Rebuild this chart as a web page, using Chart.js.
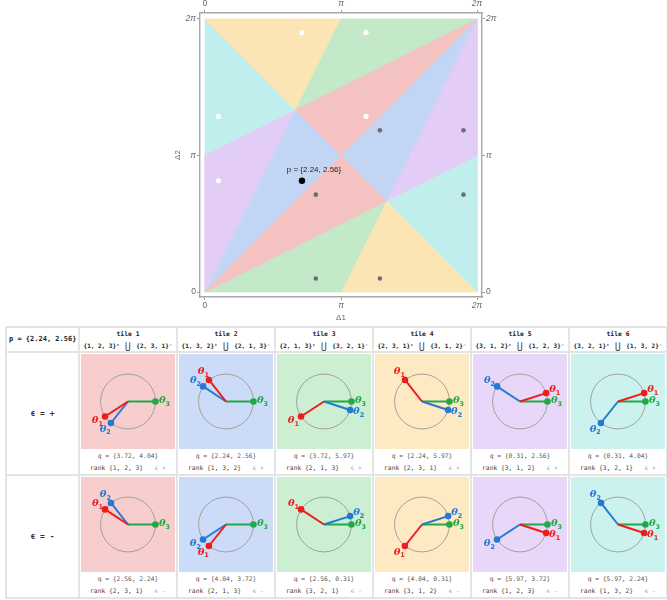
<!DOCTYPE html>
<html><head><meta charset="utf-8">
<script src="https://cdn.jsdelivr.net/npm/chart.js@4.4.0/dist/chart.umd.min.js"></script>
<style>
html,body{margin:0;padding:0;background:#fff;}
body{width:667px;height:600px;overflow:hidden;position:relative;font-family:"DejaVu Sans Mono",monospace;}
#topWrap{position:absolute;left:0;top:0;width:667px;height:326px;}
#tbl{position:absolute;left:5px;top:326px;border-collapse:collapse;table-layout:fixed;width:661px;}
#tbl td{border:2px solid #e4e4e4;padding:0;text-align:center;vertical-align:top;}
#tbl tr.hdr td{height:22px;vertical-align:middle;font-weight:bold;color:#222;font-size:6px;line-height:11px;white-space:nowrap;}
#tbl tr.hdr td .tn{font-size:6.4px;}
#tbl td.pcell{font-size:7px !important;text-align:left;padding-left:2px;}
#tbl td.eps{vertical-align:middle;font-weight:bold;font-size:8px;color:#333;}
.un{font-size:9px;font-weight:normal;position:relative;top:1px;margin:0 2px;}
.img{width:94px;height:95px;margin:1px auto 0 auto;}
.img canvas{display:block;}
.q{font-size:6.3px;color:#555;line-height:13px;height:13px;}
.rk{font-size:6.3px;color:#444;line-height:12px;height:12px;white-space:pre;}
.rk span{color:#aaa;}
</style>
</head><body>
<div id="topWrap"><canvas id="top" width="667" height="326"></canvas></div>
<table id="tbl"></table>
<script>
// ---------- data ----------
const PI = Math.PI;
const tickVals = [0, PI, 2 * PI];
const tickLabels = ['0', 'π', '2π'];
const pPoint = [2.24, 2.56];
const tileNames = ['tile 1', 'tile 2', 'tile 3', 'tile 4', 'tile 5', 'tile 6'];
const unionPlus = ['{1, 2, 3}', '{1, 3, 2}', '{2, 1, 3}', '{2, 3, 1}', '{3, 1, 2}', '{3, 2, 1}'];
const unionMinus = ['{2, 3, 1}', '{2, 1, 3}', '{3, 2, 1}', '{3, 1, 2}', '{1, 2, 3}', '{1, 3, 2}'];
const qPlus = [[3.72, 4.04], [2.24, 2.56], [3.72, 5.97], [2.24, 5.97], [0.31, 2.56], [0.31, 4.04]];
const qMinus = [[2.56, 2.24], [4.04, 3.72], [2.56, 0.31], [4.04, 0.31], [5.97, 3.72], [5.97, 2.24]];
const rankPlus = ['{1, 2, 3}', '{1, 3, 2}', '{2, 1, 3}', '{2, 3, 1}', '{3, 1, 2}', '{3, 2, 1}'];
const rankMinus = ['{2, 3, 1}', '{2, 1, 3}', '{3, 2, 1}', '{3, 1, 2}', '{1, 2, 3}', '{1, 3, 2}'];
const tileColors = ['#F5C2C2', '#C2D5F5', '#C3E9C8', '#FCE5B4', '#E3CDF7', '#C0EEEC'];
const tileColorsLight = ['#F8CDCD', '#CCDCF8', '#CCEED1', '#FDEAC2', '#E8D7F8', '#CCF2F0'];
// region vertices (in units of pi) and the tile each belongs to
const vA = [2 / 3, 4 / 3], vB = [1, 1], vC = [4 / 3, 2 / 3];
const regionTile = [0, 0, 1, 1, 2, 2, 3, 3, 4, 4, 5, 5];
const regionVerts = [
  [vA, [2, 2], vB], [[0, 0], vC, vB],
  [vB, [2, 2], vC], [[0, 0], vB, vA],
  [[1, 2], [2, 2], vA], [[0, 0], [1, 0], vC],
  [[0, 2], [1, 2], vA], [[1, 0], [2, 0], vC],
  [[2, 2], [2, 1], vC], [[0, 0], vA, [0, 1]],
  [[0, 2], vA, [0, 1]], [[2, 1], [2, 0], vC]
];
const thetaColors = ['#EE1C1C', '#2478D6', '#22A845'];

// ---------- top chart ----------
const polyDatasets = regionVerts.map((vs, i) => {
  const pts = vs.concat([vs[0]]).map(v => ({ x: v[0] * PI, y: v[1] * PI }));
  return {
    data: pts, showLine: true, fill: 'shape', tension: 0,
    backgroundColor: tileColors[regionTile[i]], borderColor: tileColors[regionTile[i]],
    borderWidth: 0.8, pointRadius: 0, order: 10
  };
});
const topDatasets = polyDatasets.concat([
  { data: qPlus.map(q => ({ x: q[0], y: q[1] })), pointRadius: 2.6, pointBackgroundColor: '#ffffff', pointBorderWidth: 0, showLine: false, order: 1 },
  { data: qMinus.map(q => ({ x: q[0], y: q[1] })), pointRadius: 2.3, pointBackgroundColor: '#6e6e6e', pointBorderWidth: 0, showLine: false, order: 1 },
  { data: [{ x: pPoint[0], y: pPoint[1] }], pointRadius: 3.2, pointBackgroundColor: '#000000', pointBorderWidth: 0, showLine: false, order: 0 }
]);

const tickFont = (ctx) => ({ family: 'Liberation Sans', size: 8.5, style: (ctx.tick && ctx.tick.value !== 0) ? 'italic' : 'normal' });
function axis(pos, extra) {
  const horiz = pos === 'bottom' || pos === 'top';
  const o = {
    type: 'linear', position: pos,
    min: -0.115, max: horiz ? 2 * PI + 0.115 : 2 * PI + 0.138,
    afterBuildTicks: s => { s.ticks = tickVals.map(v => ({ value: v })); },
    ticks: { callback: (v, i) => tickLabels[i], font: tickFont, color: '#666', padding: 1, maxRotation: 0, autoSkip: false },
    grid: { display: true, drawOnChartArea: false, drawTicks: true, tickLength: 3, color: '#999', lineWidth: 1 },
    border: { display: true, color: '#a8a8a8', width: 1.4 }
  };
  return Object.assign(o, extra);
}
const labelPlugin = {
  id: 'plabel',
  afterDatasetsDraw(chart) {
    const { ctx, scales } = chart;
    const px = scales.x.getPixelForValue(pPoint[0]);
    const py = scales.y.getPixelForValue(pPoint[1]);
    ctx.save();
    ctx.font = '8px "Liberation Sans"';
    ctx.fillStyle = '#222';
    ctx.textAlign = 'center';
    ctx.textBaseline = 'middle';
    ctx.fillText('p = {' + pPoint[0].toFixed(2) + ', ' + pPoint[1].toFixed(2) + '}', px + 12, py - 11);
    ctx.restore();
  }
};
new Chart(document.getElementById('top'), {
  type: 'scatter',
  data: { datasets: topDatasets },
  options: {
    responsive: false, animation: false,
    layout: { padding: { left: 169, right: 155, top: 0, bottom: 0 } },
    plugins: { legend: { display: false }, tooltip: { enabled: false } },
    scales: {
      x: axis('bottom', { title: { display: true, text: 'Δ1', font: { family: 'Liberation Sans', size: 8 }, color: '#666', padding: { top: 0, bottom: 3 } }, afterFit: s => { s.height = 29; } }),
      x2: axis('top', { afterFit: s => { s.height = 13; } }),
      y: axis('left', { title: { display: true, text: 'Δ2', font: { family: 'Liberation Sans', size: 8 }, color: '#666', padding: { top: 4, bottom: 0 } }, afterFit: s => { s.width = 31; } }),
      y2: axis('right', { afterFit: s => { s.width = 30; } })
    }
  },
  plugins: [labelPlugin]
});

// ---------- table ----------
const tbl = document.getElementById('tbl');
let html = '<colgroup><col style="width:73px">';
for (let i = 0; i < 6; i++) html += '<col style="width:98px">';
html += '</colgroup><tr class="hdr"><td class="pcell">p = {' + pPoint[0].toFixed(2) + ', ' + pPoint[1].toFixed(2) + '}</td>';
for (let i = 0; i < 6; i++) {
  html += '<td><span class="tn">' + tileNames[i] + '</span><br>' + unionPlus[i] + '⁺ <span class="un">⋃</span> ' + unionMinus[i] + '⁻</td>';
}
html += '</tr>';
const rows = [{ sign: '+', q: qPlus, rank: rankPlus }, { sign: '-', q: qMinus, rank: rankMinus }];
rows.forEach((r, ri) => {
  html += '<tr><td class="eps">ϵ = ' + r.sign + '</td>';
  for (let i = 0; i < 6; i++) {
    html += '<td><div class="img" style="background:' + tileColorsLight[i] + '"><canvas id="c' + ri + '_' + i + '" width="94" height="95"></canvas></div>' +
      '<div class="q">q = {' + r.q[i][0].toFixed(2) + ', ' + r.q[i][1].toFixed(2) + '}</div>' +
      '<div class="rk">rank ' + r.rank[i] + '   <span>ϵ ' + r.sign + '</span></div></td>';
  }
  html += '</tr>';
});
tbl.innerHTML = html;

const circlePlugin = {
  id: 'circ',
  beforeDatasetsDraw(chart) {
    const { ctx, scales } = chart;
    const cx = scales.x.getPixelForValue(0), cy = scales.y.getPixelForValue(0);
    const r = scales.x.getPixelForValue(1) - cx;
    ctx.save();
    ctx.strokeStyle = '#a0a0a0';
    ctx.lineWidth = 1;
    ctx.beginPath();
    ctx.arc(cx, cy, r, 0, 2 * Math.PI);
    ctx.stroke();
    ctx.restore();
  },
  afterDatasetsDraw(chart) {
    const { ctx, scales } = chart;
    const th = chart.config.options.thetas;
    ctx.save();
    th.forEach((t, i) => {
      const x = scales.x.getPixelForValue(1.33 * Math.cos(t));
      const y = scales.y.getPixelForValue(1.33 * Math.sin(t));
      ctx.fillStyle = thetaColors[i];
      ctx.font = 'italic bold 10px "DejaVu Serif"';
      const w1 = ctx.measureText('θ').width;
      ctx.font = 'bold 6.5px "DejaVu Sans"';
      const w2 = ctx.measureText(String(i + 1)).width;
      const x0 = x - (w1 + w2) / 2;
      ctx.textBaseline = 'middle';
      ctx.textAlign = 'left';
      ctx.font = 'italic bold 10px "DejaVu Serif"';
      ctx.fillText('θ', x0, y - 1);
      ctx.font = 'bold 6.5px "DejaVu Sans"';
      ctx.fillText(String(i + 1), x0 + w1, y + 2.5);
    });
    ctx.restore();
  }
};
rows.forEach((r, ri) => {
  for (let i = 0; i < 6; i++) {
    const th = [r.q[i][0], r.q[i][1], 0];
    const ds = th.map((t, k) => ({
      data: [{ x: 0, y: 0 }, { x: Math.cos(t), y: Math.sin(t) }],
      showLine: true, borderColor: thetaColors[k], borderWidth: 2,
      pointRadius: [0, 3.3], pointBackgroundColor: thetaColors[k], pointBorderWidth: 0,
      order: k
    }));
    new Chart(document.getElementById('c' + ri + '_' + i), {
      type: 'scatter',
      data: { datasets: ds },
      options: {
        thetas: th,
        responsive: false, animation: false,
        layout: { padding: 0 },
        plugins: { legend: { display: false }, tooltip: { enabled: false } },
        scales: {
          x: { display: false, min: -1.567, max: 1.567 },
          y: { display: false, min: -1.583, max: 1.583 }
        }
      },
      plugins: [circlePlugin]
    });
  }
});
</script>
</body></html>
